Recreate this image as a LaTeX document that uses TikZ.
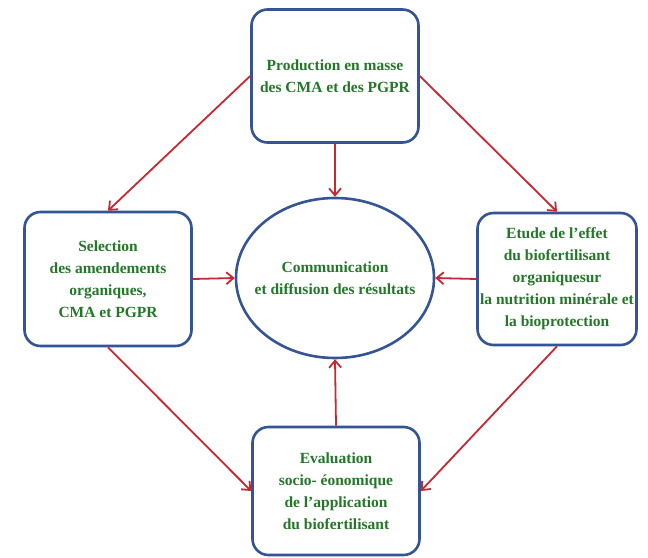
\documentclass[tikz,border=0pt]{standalone}
\usepackage{fontspec}
\setmainfont{Liberation Serif}
\usetikzlibrary{arrows.meta,shapes.geometric}
\definecolor{boxblue}{RGB}{52,84,150}
\definecolor{txtgreen}{RGB}{35,120,40}
\definecolor{arrred}{RGB}{200,40,50}
\tikzset{
  stepbox/.style={draw=boxblue, line width=2.6pt, rounded corners=16pt, fill=white,
    align=center, text=txtgreen, font=\bfseries\fontsize{15.5}{22}\selectfont, inner sep=2pt},
  oval/.style={ellipse, draw=boxblue, line width=2.6pt, fill=white,
    align=center, text=txtgreen, font=\bfseries\fontsize{15.5}{22}\selectfont,
    inner ysep=0pt, inner xsep=-14pt},
  conn/.style={draw=arrred, line width=1.8pt, -{Straight Barb[length=7pt,width=12pt,line width=1.8pt]}}
}
\begin{document}
\begin{tikzpicture}[x=1pt,y=-1pt]
\useasboundingbox (0,0) rectangle (648,557);
\node[stepbox, minimum width=167pt, minimum height=133pt] (top) at (335,76)
  {Production en masse\\des CMA et des PGPR};
\node[stepbox, minimum width=167pt, minimum height=134pt] (left) at (108,279)
  {Selection\\des amendements\\organiques,\\CMA et PGPR};
\node[stepbox, minimum width=159pt, minimum height=132pt] (right) at (557,279)
  {Etude de l'effet\\du biofertilisant\\organiquesur\\la nutrition minérale et\\la bioprotection};
\node[stepbox, minimum width=167pt, minimum height=128pt] (bot) at (336,491)
  {Evaluation\\socio- éonomique\\de l'application\\du biofertilisant};
\node[oval, minimum width=198pt, minimum height=160pt] (mid) at (335,278)
  {Communication\\et diffusion des résultats};
\draw[conn] (top.west) -- (left.north);
\draw[conn] (top.east) -- (right.north);
\draw[conn] (top.south) -- (mid.north);
\draw[conn] (left.east) -- (mid.west);
\draw[conn] (right.west) -- (mid.east);
\draw[conn] (bot.north) -- (mid.south);
\draw[conn] (left.south) -- (bot.west);
\draw[conn] (right.south) -- (bot.east);
\end{tikzpicture}
\end{document}
